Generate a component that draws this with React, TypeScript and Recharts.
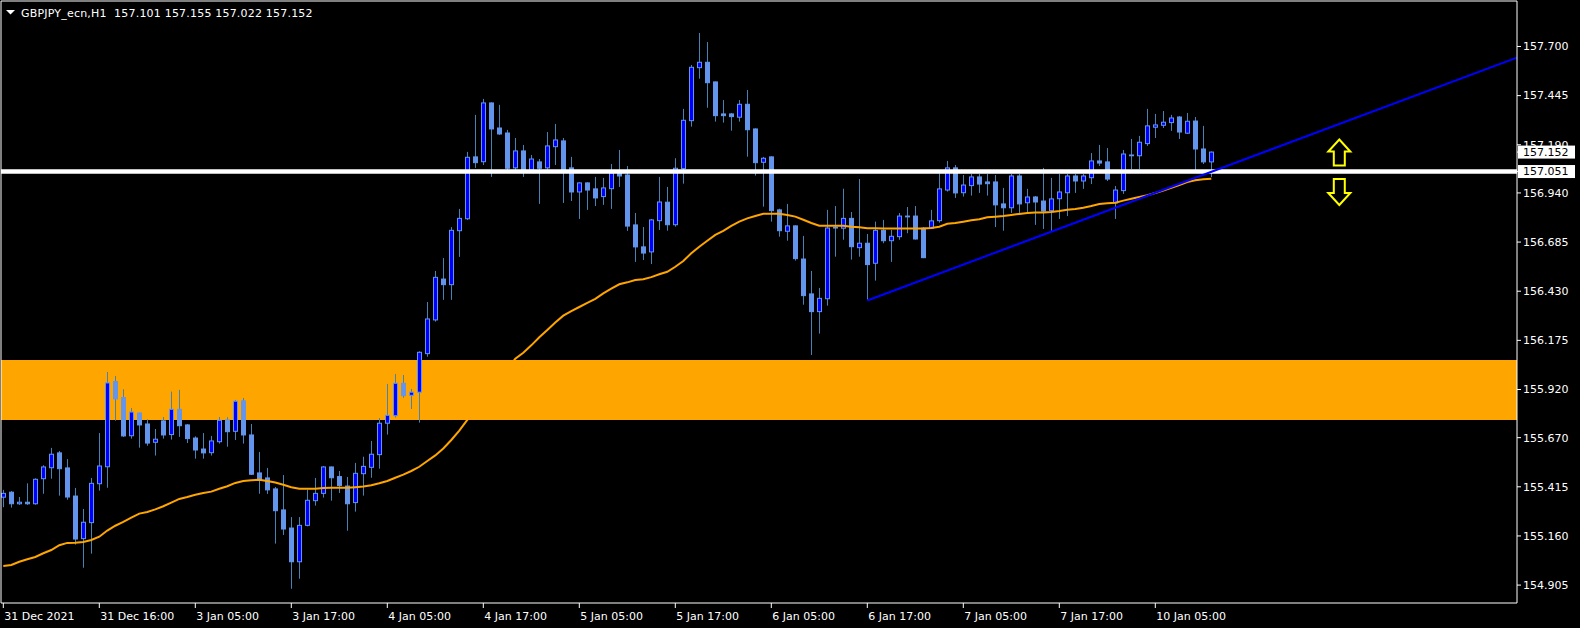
import React from 'react';
import {
  ComposedChart,
  Bar,
  Line,
  XAxis,
  YAxis,
  ReferenceArea,
  ReferenceLine,
  ReferenceDot,
} from 'recharts';

document.body.style.margin = '0';
document.body.style.background = '#000';

// GBPJPY H1, 31 Dec 2021 -> 10 Jan 2022, one value per bar
const OPEN = [
  155.361, 155.387, 155.327, 155.335, 155.327, 155.457, 155.514, 155.591, 155.513, 155.367,
  155.146, 155.229, 155.431, 155.519, 155.961, 155.878, 155.680, 155.798, 155.741, 155.646,
  155.757, 155.686, 155.817, 155.736, 155.668, 155.611, 155.592, 155.649, 155.762, 155.703,
  155.861, 155.684, 155.487, 155.461, 155.404, 155.295, 155.201, 155.026, 155.215, 155.343,
  155.381, 155.518, 155.468, 155.419, 155.333, 155.483, 155.516, 155.582, 155.745, 155.784,
  155.952, 155.890, 155.906, 156.106, 156.281, 156.493, 156.464, 156.744, 156.806, 157.127,
  157.102, 157.407, 157.277, 157.251, 157.070, 157.158, 157.059, 157.101, 157.070, 157.180,
  157.210, 157.070, 156.945, 156.992, 156.961, 156.921, 156.962, 157.044, 157.033, 156.774,
  156.660, 156.634, 156.796, 156.892, 156.775, 157.066, 157.315, 157.590, 157.618, 157.516,
  157.350, 157.350, 157.333, 157.400, 157.272, 157.099, 157.127, 156.852, 156.741, 156.769,
  156.597, 156.416, 156.324, 156.391, 156.758, 156.757, 156.808, 156.656, 156.679, 156.575,
  156.746, 156.692, 156.713, 156.817, 156.820, 156.757, 156.757, 156.796, 156.955, 157.070,
  156.941, 156.978, 157.023, 156.997, 156.997, 156.883, 156.863, 157.028, 156.889, 156.919,
  156.898, 156.848, 156.910, 156.941, 157.028, 157.002, 157.019, 157.106, 157.101, 156.888,
  156.952, 157.133, 157.133, 157.196, 157.281, 157.291, 157.305, 157.334, 157.250, 157.313,
  157.168, 157.101,
];

const HIGH = [
  155.399, 155.393, 155.362, 155.433, 155.459, 155.527, 155.617, 155.601, 155.559, 155.409,
  155.300, 155.461, 155.694, 156.011, 155.990, 155.921, 155.824, 155.800, 155.765, 155.715,
  155.777, 155.909, 155.918, 155.741, 155.677, 155.694, 155.679, 155.777, 155.776, 155.866,
  155.876, 155.741, 155.596, 155.513, 155.414, 155.476, 155.258, 155.258, 155.400, 155.461,
  155.523, 155.520, 155.497, 155.466, 155.539, 155.571, 155.653, 155.772, 155.949, 156.000,
  155.995, 155.923, 156.118, 156.374, 156.535, 156.602, 156.763, 156.857, 157.153, 157.345,
  157.428, 157.410, 157.397, 157.267, 157.225, 157.189, 157.137, 157.116, 157.256, 157.298,
  157.225, 157.127, 156.995, 156.995, 157.023, 157.018, 157.090, 157.163, 157.080, 156.836,
  156.763, 156.805, 157.023, 156.971, 157.120, 157.376, 157.604, 157.770, 157.723, 157.518,
  157.422, 157.355, 157.422, 157.474, 157.275, 157.127, 157.130, 156.858, 156.883, 156.772,
  156.717, 156.535, 156.447, 156.852, 156.872, 156.962, 156.841, 157.012, 156.727, 156.791,
  156.800, 156.748, 156.836, 156.867, 156.872, 156.763, 156.852, 157.042, 157.106, 157.085,
  157.033, 157.038, 157.038, 157.038, 157.033, 156.966, 157.038, 157.038, 156.961, 156.924,
  157.070, 157.018, 157.038, 157.038, 157.038, 157.038, 157.147, 157.189, 157.173, 156.976,
  157.163, 157.220, 157.236, 157.376, 157.350, 157.365, 157.345, 157.339, 157.355, 157.334,
  157.288, 157.155,
];

const LOW = [
  155.309, 155.307, 155.321, 155.321, 155.322, 155.379, 155.457, 155.369, 155.348, 155.115,
  154.995, 155.068, 155.395, 155.410, 155.758, 155.674, 155.665, 155.618, 155.628, 155.577,
  155.665, 155.660, 155.674, 155.642, 155.561, 155.561, 155.577, 155.639, 155.623, 155.658,
  155.639, 155.476, 155.379, 155.378, 155.120, 155.165, 154.886, 154.938, 155.210, 155.317,
  155.359, 155.343, 155.383, 155.187, 155.286, 155.369, 155.462, 155.509, 155.686, 155.774,
  155.877, 155.819, 155.748, 156.090, 156.272, 156.385, 156.385, 156.608, 156.800, 157.070,
  157.085, 157.023, 157.241, 157.059, 157.059, 157.023, 157.049, 156.883, 157.059, 157.085,
  156.888, 156.898, 156.805, 156.852, 156.872, 156.878, 156.857, 156.971, 156.743, 156.582,
  156.592, 156.571, 156.748, 156.744, 156.765, 156.988, 157.284, 157.533, 157.382, 157.310,
  157.305, 157.263, 157.310, 157.128, 157.030, 156.869, 156.791, 156.713, 156.692, 156.589,
  156.360, 156.099, 156.210, 156.355, 156.609, 156.697, 156.594, 156.609, 156.385, 156.485,
  156.679, 156.582, 156.697, 156.731, 156.698, 156.602, 156.755, 156.786, 156.947, 156.914,
  156.921, 156.926, 156.940, 156.926, 156.763, 156.744, 156.836, 156.836, 156.836, 156.774,
  156.753, 156.743, 156.805, 156.820, 156.940, 156.961, 156.986, 157.080, 157.002, 156.805,
  156.935, 157.064, 157.064, 157.184, 157.225, 157.277, 157.262, 157.220, 157.246, 157.059,
  157.090, 157.022,
];

const CLOSE = [
  155.381, 155.327, 155.335, 155.327, 155.454, 155.518, 155.584, 155.509, 155.362, 155.144,
  155.231, 155.433, 155.523, 155.954, 155.871, 155.679, 155.803, 155.736, 155.642, 155.662,
  155.684, 155.817, 155.732, 155.665, 155.606, 155.591, 155.653, 155.760, 155.701, 155.859,
  155.684, 155.480, 155.450, 155.399, 155.291, 155.196, 155.026, 155.215, 155.345, 155.381,
  155.518, 155.462, 155.421, 155.327, 155.485, 155.521, 155.584, 155.745, 155.786, 155.952,
  155.888, 155.906, 156.113, 156.286, 156.502, 156.464, 156.746, 156.808, 157.125, 157.097,
  157.407, 157.272, 157.246, 157.068, 157.158, 157.059, 157.116, 157.068, 157.184, 157.215,
  157.059, 156.945, 156.992, 156.955, 156.914, 156.966, 157.044, 157.028, 156.768, 156.660,
  156.628, 156.800, 156.893, 156.775, 157.068, 157.317, 157.592, 157.618, 157.512, 157.341,
  157.341, 157.336, 157.400, 157.268, 157.097, 157.120, 156.848, 156.744, 156.769, 156.599,
  156.407, 156.324, 156.393, 156.758, 156.762, 156.808, 156.661, 156.679, 156.568, 156.746,
  156.692, 156.715, 156.820, 156.820, 156.701, 156.604, 156.795, 156.961, 157.070, 156.940,
  156.981, 157.023, 156.986, 156.988, 156.878, 156.863, 157.028, 156.883, 156.919, 156.893,
  156.846, 156.909, 156.945, 157.028, 157.002, 157.028, 157.106, 157.095, 157.012, 156.955,
  157.142, 157.137, 157.203, 157.288, 157.293, 157.307, 157.329, 157.256, 157.312, 157.168,
  157.101, 157.152,
];

// moving average (orange)
const MA = [
  155.004, 155.009, 155.026, 155.039, 155.051, 155.070, 155.087, 155.112, 155.124, 155.125,
  155.129, 155.139, 155.156, 155.188, 155.213, 155.233, 155.255, 155.276, 155.284, 155.298,
  155.314, 155.333, 155.352, 155.362, 155.374, 155.383, 155.390, 155.405, 155.418, 155.435,
  155.445, 155.449, 155.451, 155.445, 155.437, 155.426, 155.413, 155.405, 155.405, 155.405,
  155.409, 155.410, 155.410, 155.410, 155.413, 155.416, 155.423, 155.433, 155.445, 155.462,
  155.478, 155.497, 155.519, 155.549, 155.578, 155.614, 155.658, 155.707, 155.762, 155.814,
  155.866, 155.923, 155.974, 156.026, 156.080, 156.111, 156.149, 156.191, 156.229, 156.267,
  156.303, 156.327, 156.348, 156.369, 156.390, 156.419, 156.443, 156.466, 156.476, 156.488,
  156.492, 156.503, 156.518, 156.531, 156.557, 156.587, 156.627, 156.661, 156.692, 156.722,
  156.743, 156.769, 156.791, 156.808, 156.820, 156.832, 156.832, 156.832, 156.826, 156.817,
  156.801, 156.784, 156.770, 156.770, 156.770, 156.770, 156.765, 156.762, 156.757, 156.757,
  156.756, 156.755, 156.755, 156.755, 156.755, 156.755, 156.758, 156.765, 156.780, 156.784,
  156.791, 156.798, 156.803, 156.814, 156.817, 156.820, 156.826, 156.831, 156.836, 156.838,
  156.838, 156.841, 156.846, 156.853, 156.857, 156.863, 156.872, 156.883, 156.886, 156.889,
  156.900, 156.910, 156.919, 156.928, 156.940, 156.952, 156.966, 156.981, 156.997, 157.006,
  157.011, 157.014,
];

const X_TICKS = [0, 12, 24, 36, 48, 60, 72, 84, 96, 108, 120, 132, 144];
const X_LABELS = [
  '31 Dec 2021', '31 Dec 16:00', '3 Jan 05:00', '3 Jan 17:00', '4 Jan 05:00', '4 Jan 17:00',
  '5 Jan 05:00', '5 Jan 17:00', '6 Jan 05:00', '6 Jan 17:00', '7 Jan 05:00', '7 Jan 17:00',
  '10 Jan 05:00',
];
const Y_TICKS = [
  157.7, 157.445, 157.19, 156.94, 156.685, 156.43, 156.175, 155.92, 155.67, 155.415, 155.16, 154.905,
];

const SYMBOL = 'GBPJPY_ecn,H1';
const BID = 157.152;
const LEVEL = 157.051; // white horizontal line
const ZONE = [155.762, 156.073]; // orange box
const TREND = [
  { i: 108, price: 156.382 },
  { i: 189.2, price: 157.642 },
];
const ARROW_AT = 167;
const ARROW_UP = 157.15;
const ARROW_DOWN = 156.945;

// chart extends past last bar (chart shift)
const X_DOMAIN = [-0.2875, 189.2125];
const Y_DOMAIN = [154.812, 157.936];

const FONT = '"DejaVu Sans", Tahoma, sans-serif';
const WICK = '#4682b4';
const BULL = '#0000ff';
const BULL_EDGE = '#6495ed';
const BEAR = '#6495ed';

const data = OPEN.map((o, i) => ({
  i,
  o,
  h: HIGH[i],
  l: LOW[i],
  c: CLOSE[i],
  range: [LOW[i], HIGH[i]],
  ma: MA[i],
}));

// eslint-disable-next-line @typescript-eslint/no-explicit-any
function Candle(props: any) {
  const { x, y, width, height } = props;
  const p = props.payload ?? props;
  if (height == null || isNaN(y)) return null;
  const cx = Math.round(x + width / 2) + 0.5;
  const span = p.h - p.l || 1;
  const py = (v: number) => y + ((p.h - v) / span) * height;
  const bull = p.c >= p.o;
  const top = py(Math.max(p.o, p.c));
  const bot = py(Math.min(p.o, p.c));
  return (
    <g>
      <line x1={cx} x2={cx} y1={y} y2={y + height} stroke={WICK} strokeWidth={1} />
      <rect
        x={cx - 2}
        y={top}
        width={4}
        height={Math.max(bot - top, 0.8)}
        fill={bull ? BULL : BEAR}
        stroke={bull ? BULL_EDGE : BEAR}
        strokeWidth={1}
      />
    </g>
  );
}

// eslint-disable-next-line @typescript-eslint/no-explicit-any
function TimeTick({ x, y, payload }: any) {
  const label = X_LABELS[X_TICKS.indexOf(payload.value)];
  return (
    <text x={x + 1} y={y + 10} fill="#fff" fontSize={11} fontFamily={FONT} textAnchor="start">
      {label}
    </text>
  );
}

// eslint-disable-next-line @typescript-eslint/no-explicit-any
function PriceTick({ x, y, payload }: any) {
  const v = payload.value;
  const boxed = v === BID || v === LEVEL;
  return (
    <g>
      {boxed && <rect x={x - 5} y={y - 6.5} width={57} height={13} fill="#fff" />}
      <text
        x={x}
        y={y}
        dy="0.35em"
        fill={boxed ? '#000' : '#fff'}
        fontSize={11}
        fontFamily={FONT}
        textAnchor="start"
      >
        {v.toFixed(3)}
      </text>
    </g>
  );
}

// eslint-disable-next-line @typescript-eslint/no-explicit-any
function UpArrow({ cx, cy }: any) {
  const d = `M${cx},${cy - 13} L${cx + 11},${cy - 1} L${cx + 5.5},${cy - 1} L${cx + 5.5},${cy + 13} L${cx - 5.5},${cy + 13} L${cx - 5.5},${cy - 1} L${cx - 11},${cy - 1} Z`;
  return <path d={d} fill="none" stroke="#ffff00" strokeWidth={2} strokeLinejoin="miter" />;
}

// eslint-disable-next-line @typescript-eslint/no-explicit-any
function DownArrow({ cx, cy }: any) {
  const d = `M${cx},${cy + 13} L${cx + 11},${cy + 1} L${cx + 5.5},${cy + 1} L${cx + 5.5},${cy - 13} L${cx - 5.5},${cy - 13} L${cx - 5.5},${cy + 1} L${cx - 11},${cy + 1} Z`;
  return <path d={d} fill="none" stroke="#ffff00" strokeWidth={2} strokeLinejoin="miter" />;
}

export default function App() {
  return (
    <div style={{ position: 'relative', width: 1580, height: 628, background: '#000' }}>
      <ComposedChart
        width={1580}
        height={628}
        data={data}
        margin={{ top: 1, right: 0, bottom: 0, left: 1 }}
      >
        <ReferenceArea
          x1={X_DOMAIN[0]}
          x2={X_DOMAIN[1]}
          y1={ZONE[0]}
          y2={ZONE[1]}
          fill="#ffa500"
          fillOpacity={1}
          stroke="none"
          zIndex={50}
        />
        <XAxis
          type="number"
          dataKey="i"
          domain={X_DOMAIN}
          allowDataOverflow
          ticks={X_TICKS}
          interval={0}
          tick={<TimeTick />}
          tickSize={5}
          tickLine={{ stroke: '#fff' }}
          axisLine={{ stroke: '#fff' }}
          height={25}
        />
        <YAxis
          orientation="right"
          type="number"
          domain={Y_DOMAIN}
          allowDataOverflow
          ticks={[...Y_TICKS, LEVEL, BID]}
          interval={0}
          tick={<PriceTick />}
          tickSize={4}
          tickMargin={2}
          tickLine={{ stroke: '#fff' }}
          axisLine={{ stroke: '#fff' }}
          width={63}
        />
        <ReferenceLine x={X_DOMAIN[0]} stroke="#fff" strokeWidth={1} />
        <ReferenceLine y={Y_DOMAIN[1]} stroke="#fff" strokeWidth={1} />
        <Bar dataKey="range" barSize={5} shape={<Candle />} isAnimationActive={false} />
        <Line
          type="linear"
          dataKey="ma"
          stroke="#ffa500"
          strokeWidth={2}
          dot={false}
          activeDot={false}
          isAnimationActive={false}
        />
        <ReferenceLine y={LEVEL} stroke="#fff" strokeWidth={4.5} zIndex={450} />
        <ReferenceLine
          segment={[
            { x: TREND[0].i, y: TREND[0].price },
            { x: TREND[1].i, y: TREND[1].price },
          ]}
          stroke="#0000ff"
          strokeWidth={2}
          zIndex={460}
        />
        <ReferenceDot x={ARROW_AT} y={ARROW_UP} r={1} shape={<UpArrow />} zIndex={470} />
        <ReferenceDot x={ARROW_AT} y={ARROW_DOWN} r={1} shape={<DownArrow />} zIndex={470} />
      </ComposedChart>
      <svg
        width={400}
        height={24}
        style={{ position: 'absolute', left: 0, top: 0, pointerEvents: 'none' }}
      >
        <polygon points="6,10 15,10 10.5,14.5" fill="#fff" />
        <text
          x={21}
          y={17}
          fill="#fff"
          fontSize={11}
          fontFamily={FONT}
          letterSpacing={0.2}
          style={{ whiteSpace: 'pre' }}
        >
          {`${SYMBOL}  ${OPEN[151].toFixed(3)} ${HIGH[151].toFixed(3)} ${LOW[151].toFixed(3)} ${CLOSE[151].toFixed(3)}`}
        </text>
      </svg>
    </div>
  );
}
